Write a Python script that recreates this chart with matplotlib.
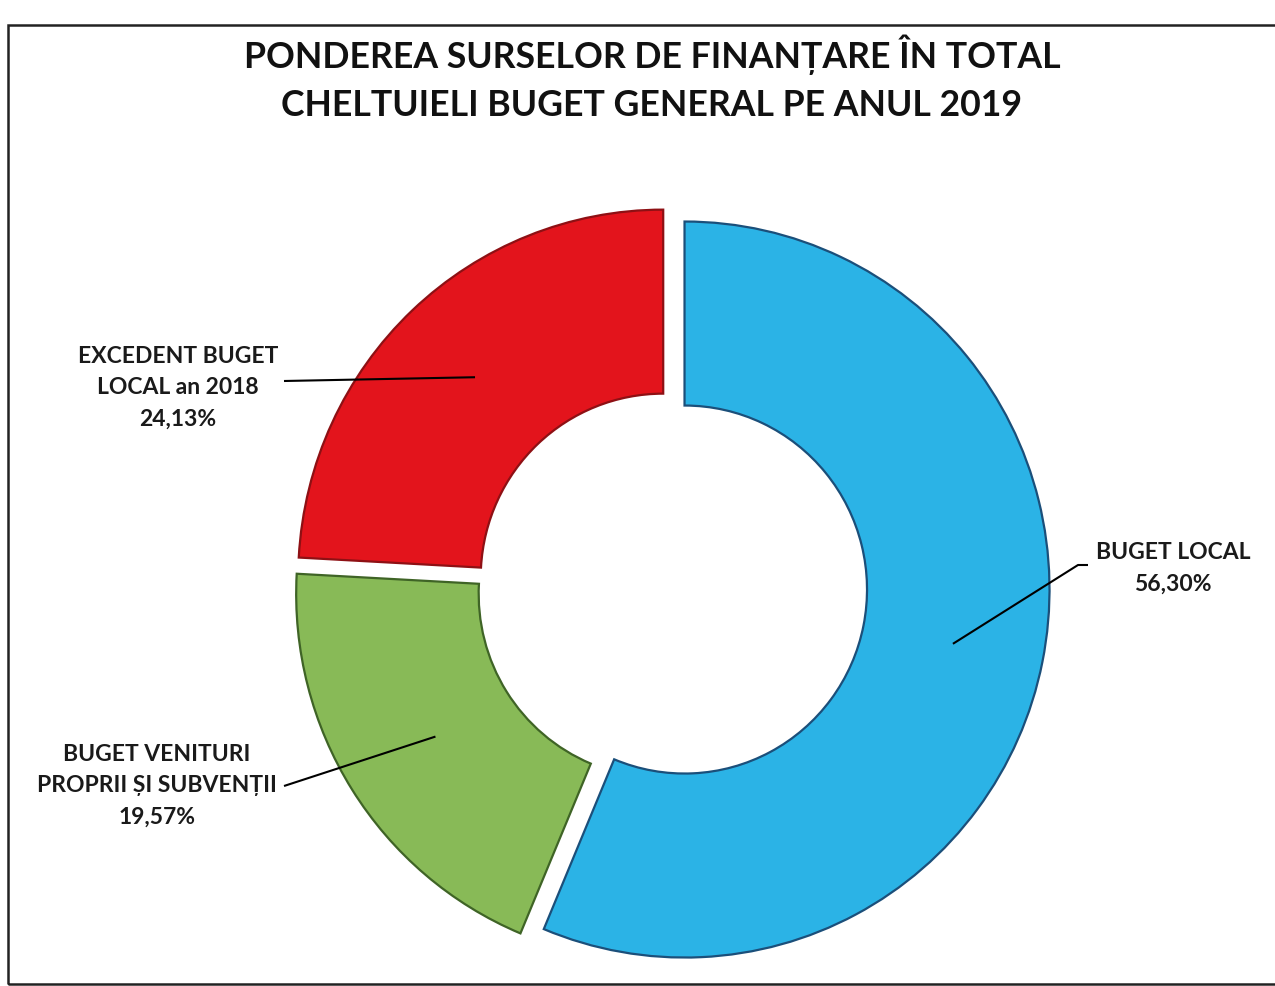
import matplotlib
matplotlib.use("Agg")
import matplotlib.pyplot as plt
from matplotlib.patches import Rectangle
import numpy as np

plt.rcParams['font.family'] = ['Lato', 'DejaVu Sans']

# Data
categories = ["BUGET LOCAL", "BUGET VENITURI\nPROPRII ȘI SUBVENȚII", "EXCEDENT BUGET\nLOCAL an 2018"]
values = [56.30, 19.57, 24.13]
value_labels = ["56,30%", "19,57%", "24,13%"]
colors = ["#2BB3E6", "#88BA57", "#E3141C"]
edge_colors = ["#1B4F7A", "#3F6426", "#8E1014"]
title = "PONDEREA SURSELOR DE FINANȚARE ÎN TOTAL\nCHELTUIELI BUGET GENERAL PE ANUL 2019"

W, H = 1275, 987
fig = plt.figure(figsize=(W / 100, H / 100), dpi=100)
fig.patch.set_facecolor("white")

Rx_px, Ry_px = 365.0, 368.0
cx_px, cy_px = 672.0, 588.0  # center in pixels from top-left
ax = fig.add_axes([0, 0, 1, 1])
wedges, _ = ax.pie(values, colors=colors, startangle=90, counterclock=False,
                   explode=[0.035, 0.035, 0.035], radius=1.0,
                   wedgeprops=dict(width=0.5, linewidth=1.6))
for w, ec in zip(wedges, edge_colors):
    w.set_edgecolor(ec)

ax.set_xlim(-cx_px / Rx_px, (W - cx_px) / Rx_px)
ax.set_ylim(-(H - cy_px) / Ry_px, cy_px / Ry_px)
ax.set_aspect('auto')
ax.axis('off')

def px(x, y):
    # figure pixels from top-left -> data coords
    return (x - cx_px) / Rx_px, (cy_px - y) / Ry_px

# annotations
label_pos = [(1173, 568), (157, 786), (178, 388)]
text_anchor = [(1088, 566), (284, 787), (284, 382)]
elbow = [(1078, 566), None, None]
anchor_r = [0.75, 0.73, 0.75]
for i, w in enumerate(wedges):
    ang = np.deg2rad((w.theta1 + w.theta2) / 2)
    r = anchor_r[i] + 0.035
    ax_pt = (r * np.cos(ang), r * np.sin(ang))
    tx, ty = px(*text_anchor[i])
    pts = [ax_pt]
    if elbow[i] is not None:
        pts.append(px(*elbow[i]))
    pts.append((tx, ty))
    xs, ys = zip(*pts)
    ax.plot(xs, ys, color="black", lw=1.5, zorder=5, solid_capstyle='butt')
    lx, ly = px(*label_pos[i])
    ax.text(lx, ly, categories[i] + "\n" + value_labels[i], ha="center", va="center",
            fontsize=16.5, fontweight="bold", color="#1a1a1a", linespacing=1.62)

fig.text(652 / W, 1 - 78 / H, title, ha="center", va="center", fontsize=25.7,
         fontweight="bold", color="#111111", linespacing=1.5)

fig.patches.append(Rectangle((8 / W, 2 / H), 1.2, (985 - 26) / H, transform=fig.transFigure,
                             fill=False, edgecolor="#222222", linewidth=1.8, figure=fig))

fig.savefig("out.png", dpi=100)
